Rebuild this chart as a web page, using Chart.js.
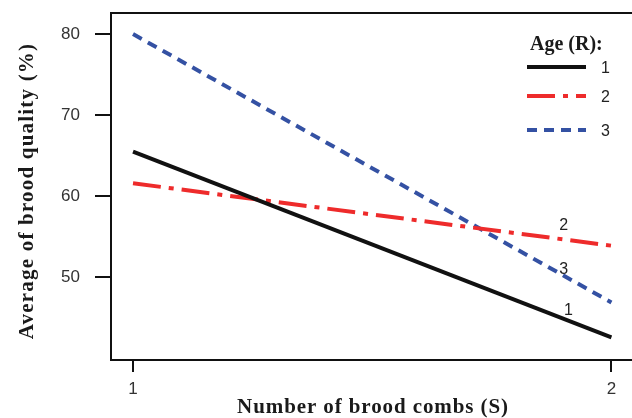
<!DOCTYPE html>
<html>
<head>
<meta charset="utf-8">
<script src="https://cdn.jsdelivr.net/npm/chart.js@4/dist/chart.umd.min.js"></script>
<style>
  html, body { margin: 0; padding: 0; background: #fff; }
  #wrap { width: 632px; height: 418px; }
</style>
</head>
<body>
<div id="wrap"><canvas id="chart" width="632" height="418"></canvas></div>
<script>
// data
const combs = [1, 2]
const age1 = [65.5, 42.6]
const age2 = [61.6, 53.9]
const age3 = [80.0, 46.9]
const ageNames = ["1", "2", "3"]
const xTicks = [1, 2]
const yTicks = [50, 60, 70, 80]
// where the small series labels sit, in data units
const endLabelX = [1.91, 1.90, 1.90]
const endLabelY = [45.9, 56.4, 50.9]

const colors = ["#111111", "#ee2b2b", "#3451a3"]
const dashes = [[], [28, 8, 5, 8], [10, 7]]
const serif = "'Liberation Serif', 'Times New Roman', serif"
const sans = "'Liberation Sans', Arial, sans-serif"

const series = [age1, age2, age3]

const datasets = series.map((vals, i) => ({
    label: ageNames[i],
    data: combs.map((c, j) => ({ x: c, y: vals[j] })),
    borderColor: colors[i],
    borderWidth: 4,
    borderDash: dashes[i],
    borderCapStyle: "butt",
    pointRadius: 0,
    tension: 0,
    fill: false,
}))

// box, titles, legend and line labels
const decor = {
    id: "decor",
    afterDraw(chart) {
        const { ctx, chartArea: a, scales } = chart
        ctx.save()
        ctx.strokeStyle = "#111"
        ctx.lineWidth = 2
        ctx.beginPath()
        ctx.moveTo(a.left, a.bottom)
        ctx.lineTo(a.left, a.top)
        ctx.lineTo(a.right + 2, a.top)
        ctx.stroke()

        // axis titles
        ctx.fillStyle = "#1a1a1a"
        ctx.font = "bold 21px " + serif
        ctx.letterSpacing = "0.9px"
        ctx.textAlign = "center"
        ctx.textBaseline = "alphabetic"
        ctx.fillText("Number of brood combs (S)", 373, 413)
        ctx.letterSpacing = "1.2px"
        ctx.save()
        ctx.translate(33, 191)
        ctx.rotate(-Math.PI / 2)
        ctx.fillText("Average of brood quality (%)", 0, 0)
        ctx.restore()

        // legend
        ctx.textAlign = "left"
        ctx.font = "bold 20px " + serif
        ctx.letterSpacing = "0px"
        ctx.textBaseline = "alphabetic"
        ctx.fillText("Age (R):", 530, 50)
        ctx.textBaseline = "middle"
        const rowY = [67, 96, 130]
        ctx.font = "16px " + sans
        series.forEach((_, i) => {
            ctx.strokeStyle = colors[i]
            ctx.lineWidth = 4
            ctx.setLineDash(dashes[i])
            ctx.beginPath()
            ctx.moveTo(527, rowY[i])
            ctx.lineTo(586, rowY[i])
            ctx.stroke()
            ctx.setLineDash([])
            ctx.fillStyle = "#222"
            ctx.fillText(ageNames[i], 601, rowY[i] + 2)
        })

        // labels near the line ends
        ctx.textAlign = "center"
        ctx.fillStyle = "#222"
        series.forEach((_, i) => {
            ctx.fillText(ageNames[i], scales.x.getPixelForValue(endLabelX[i]),
                scales.y.getPixelForValue(endLabelY[i]))
        })
        ctx.restore()
    },
}

new Chart(document.getElementById("chart"), {
    type: "line",
    data: { datasets },
    plugins: [decor],
    options: {
        responsive: false,
        animation: false,
        layout: { padding: { left: 0, right: 0, top: 13, bottom: 0 } },
        plugins: { legend: { display: false }, tooltip: { enabled: false } },
        scales: {
            x: {
                type: "linear",
                min: 0.954,
                max: 2.043,
                afterBuildTicks: (s) => { s.ticks = xTicks.map((v) => ({ value: v })) },
                afterFit: (s) => { s.height = 58; s.paddingLeft = 0; s.paddingRight = 0 },
                border: { display: true, color: "#111", width: 2 },
                grid: { drawOnChartArea: false, drawTicks: true, tickLength: 12, color: "#111", lineWidth: 2 },
                ticks: { color: "#333", font: { family: sans, size: 17 }, padding: 7, maxRotation: 0 },
            },
            y: {
                min: 39.8,
                max: 82.6,
                afterBuildTicks: (s) => { s.ticks = yTicks.map((v) => ({ value: v })) },
                afterFit: (s) => { s.width = 111; s.paddingTop = 0; s.paddingBottom = 0 },
                border: { display: true, color: "#111", width: 2 },
                grid: { drawOnChartArea: false, drawTicks: true, tickLength: 16, color: "#111", lineWidth: 2 },
                ticks: { color: "#333", font: { family: sans, size: 17 }, padding: 15 },
            },
        },
    },
})
</script>
</body>
</html>
